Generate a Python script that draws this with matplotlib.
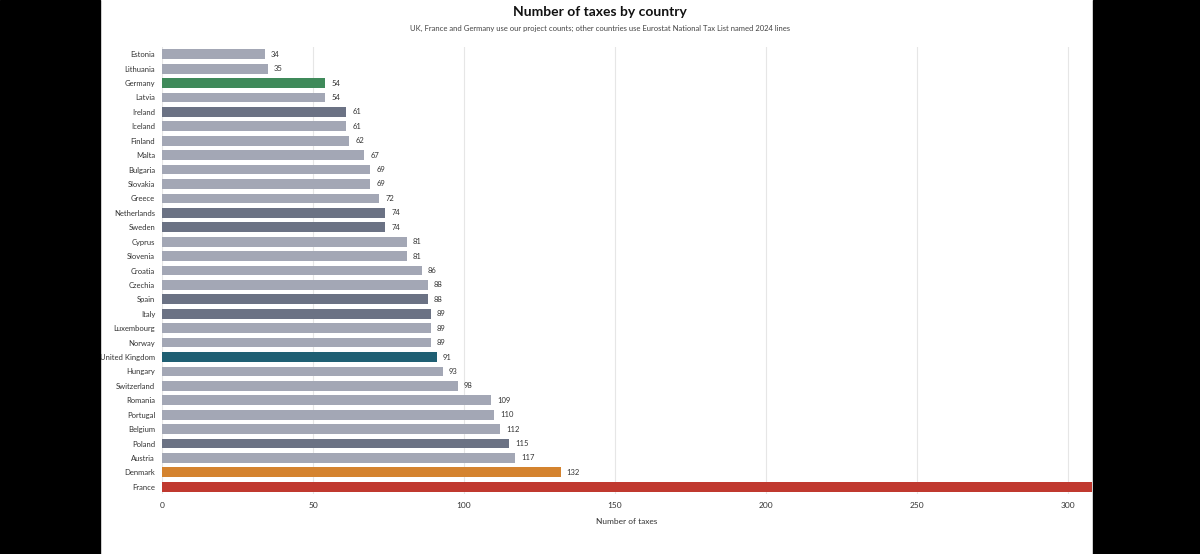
import matplotlib.pyplot as plt
from matplotlib.patches import Rectangle

countries = ["Estonia", "Lithuania", "Germany", "Latvia", "Ireland", "Iceland", "Finland", "Malta",
             "Bulgaria", "Slovakia", "Greece", "Netherlands", "Sweden", "Cyprus", "Slovenia", "Croatia",
             "Czechia", "Spain", "Italy", "Luxembourg", "Norway", "United Kingdom", "Hungary",
             "Switzerland", "Romania", "Portugal", "Belgium", "Poland", "Austria", "Denmark", "France"]
values = [34, 35, 54, 54, 61, 61, 62, 67, 69, 69, 72, 74, 74, 81, 81, 86, 88, 88, 89, 89, 89, 91,
          93, 98, 109, 110, 112, 115, 117, 132, 350]
show_label = [c != "France" for c in countries]

gray = "#a3a7b5"
slate = "#6b7284"
special = {"Germany": "#3f8a5a", "United Kingdom": "#1f5f73", "Denmark": "#d4832f", "France": "#c0392f",
           "Ireland": slate, "Netherlands": slate, "Sweden": slate, "Spain": slate, "Italy": slate,
           "Poland": slate}
colors = [special.get(c, gray) for c in countries]

plt.rcParams['font.family'] = ['Lato', 'DejaVu Sans']
W, H = 1200, 554
fig = plt.figure(figsize=(12, 5.54), dpi=100, facecolor="white")
ax = fig.add_axes([162 / W, 1 - 494 / H, (1092 - 162) / W, (494 - 47) / H])

y = list(range(len(countries)))
ax.barh(y, values, color=colors, height=0.68, zorder=2)
for yi, v, s in zip(y, values, show_label):
    if s:
        ax.text(v + 2, yi, str(v), va="center", ha="left", fontsize=5.5, color="#333333")
ax.set_yticks(y)
ax.set_yticklabels(countries, fontsize=5.5, color="#333333")
ax.set_ylim(len(countries) - 0.5, -0.5)
ax.set_xlim(0, 308)
ax.set_xticks([0, 50, 100, 150, 200, 250, 300])
ax.tick_params(axis="x", labelsize=6, colors="#333333", length=0, pad=6)
ax.tick_params(axis="y", length=0, pad=5)
ax.grid(axis="x", color="#e6e6e6", linewidth=0.8, zorder=0)
for s in ax.spines.values():
    s.set_visible(False)
ax.set_xlabel("Number of taxes", fontsize=6, color="#333333", labelpad=6)

fig.text(0.5, 1 - 12 / H, "Number of taxes by country", ha="center", va="center",
         fontsize=10, fontweight="bold", color="#111111")
fig.text(0.5, 1 - 28 / H, "UK, France and Germany use our project counts; other countries use Eurostat National Tax List named 2024 lines",
         ha="center", va="center", fontsize=5.5, color="#444444")

fig.patches.append(Rectangle((0, 0), 100 / W, 1, transform=fig.transFigure, color="black", zorder=10))
fig.patches.append(Rectangle((1093 / W, 0), 1 - 1093 / W, 1, transform=fig.transFigure, color="black", zorder=10))

fig.savefig("out.png", dpi=100)
